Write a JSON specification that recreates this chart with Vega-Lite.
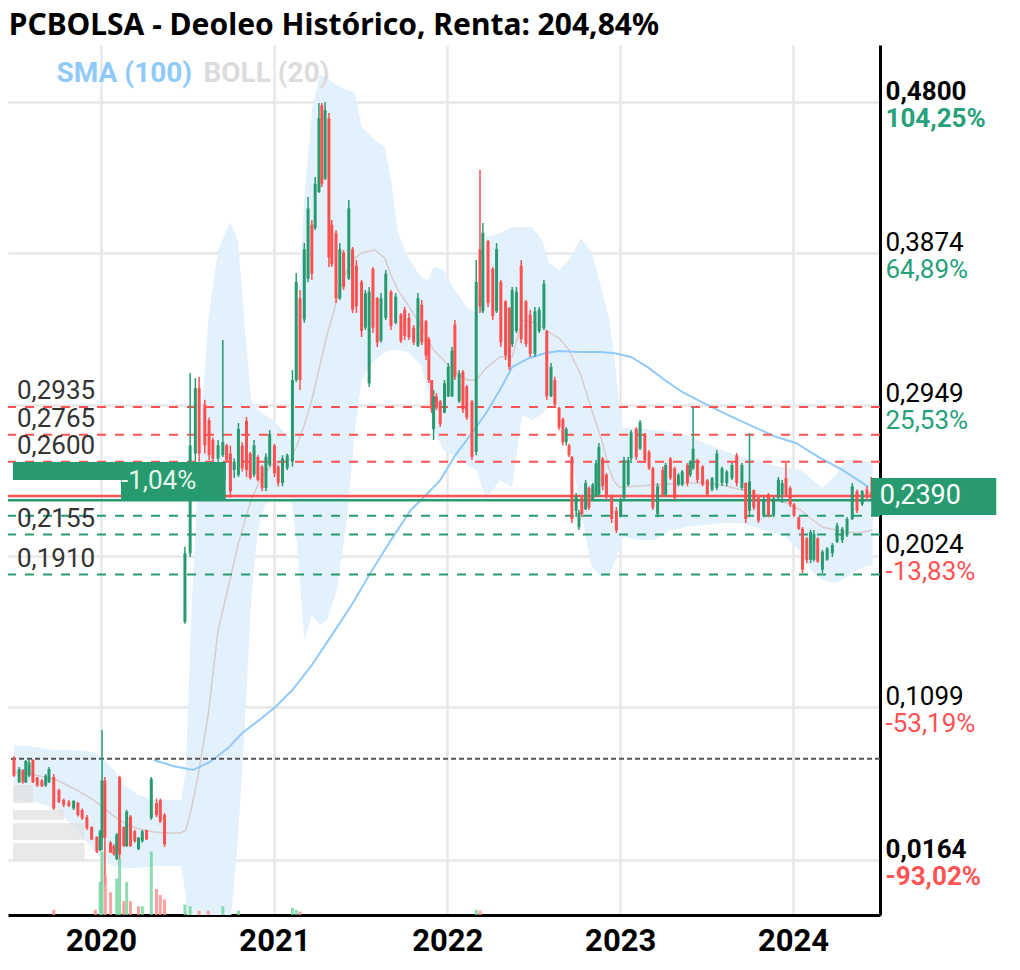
{
"$schema":"https://vega.github.io/schema/vega-lite/v6.json",
"width":872,"height":870,
"autosize":{"type":"none"},
"padding":{"left":8,"top":45,"right":140,"bottom":55},
"background":"white",
"title":{"text":"PCBOLSA - Deoleo Histórico, Renta: 204,84%","anchor":"start","fontSize":30,"fontWeight":"bold","font":"Noto Sans","color":"#000000","offset":-20,"baseline":"alphabetic","dx":2},
"config":{"view":{"stroke":null},"font":"Roboto"},
"datasets":{
"candles":[
{"d":"2019-07-01","o":0.0784,"h":0.0800,"l":0.0672,"c":0.0680},
{"d":"2019-07-12","o":0.0640,"h":0.0733,"l":0.0635,"c":0.0720},
{"d":"2019-07-20","o":0.0715,"h":0.0720,"l":0.0630,"c":0.0640},
{"d":"2019-07-26","o":0.0640,"h":0.0776,"l":0.0635,"c":0.0770},
{"d":"2019-08-02","o":0.0680,"h":0.0780,"l":0.0670,"c":0.0760},
{"d":"2019-08-10","o":0.0776,"h":0.0780,"l":0.0635,"c":0.0640},
{"d":"2019-08-19","o":0.0670,"h":0.0672,"l":0.0611,"c":0.0620},
{"d":"2019-08-29","o":0.0650,"h":0.0660,"l":0.0611,"c":0.0615},
{"d":"2019-09-06","o":0.0620,"h":0.0690,"l":0.0611,"c":0.0680},
{"d":"2019-09-13","o":0.0640,"h":0.0733,"l":0.0635,"c":0.0720},
{"d":"2019-09-23","o":0.0672,"h":0.0690,"l":0.0470,"c":0.0480},
{"d":"2019-10-04","o":0.0592,"h":0.0600,"l":0.0513,"c":0.0520},
{"d":"2019-10-14","o":0.0531,"h":0.0540,"l":0.0488,"c":0.0500},
{"d":"2019-10-25","o":0.0520,"h":0.0531,"l":0.0488,"c":0.0495},
{"d":"2019-11-04","o":0.0480,"h":0.0531,"l":0.0470,"c":0.0525},
{"d":"2019-11-13","o":0.0513,"h":0.0520,"l":0.0430,"c":0.0440},
{"d":"2019-11-22","o":0.0470,"h":0.0480,"l":0.0409,"c":0.0420},
{"d":"2019-12-02","o":0.0427,"h":0.0440,"l":0.0348,"c":0.0360},
{"d":"2019-12-12","o":0.0366,"h":0.0370,"l":0.0286,"c":0.0290},
{"d":"2019-12-23","o":0.0305,"h":0.0310,"l":0.0207,"c":0.0215},
{"d":"2019-12-30","o":0.0225,"h":0.0348,"l":0.0220,"c":0.0340},
{"d":"2020-01-03","o":0.0300,"h":0.0959,"l":0.0225,"c":0.0650},
{"d":"2020-01-09","o":0.0650,"h":0.0672,"l":0.0010,"c":0.0300},
{"d":"2020-01-21","o":0.0270,"h":0.0280,"l":0.0207,"c":0.0210},
{"d":"2020-01-28","o":0.0250,"h":0.0260,"l":0.0190,"c":0.0200},
{"d":"2020-02-03","o":0.0170,"h":0.0329,"l":0.0164,"c":0.0320},
{"d":"2020-02-09","o":0.0672,"h":0.0680,"l":0.0164,"c":0.0200},
{"d":"2020-02-18","o":0.0366,"h":0.0370,"l":0.0244,"c":0.0250},
{"d":"2020-02-24","o":0.0250,"h":0.0470,"l":0.0244,"c":0.0460},
{"d":"2020-03-03","o":0.0430,"h":0.0440,"l":0.0244,"c":0.0250},
{"d":"2020-03-12","o":0.0340,"h":0.0350,"l":0.0270,"c":0.0280},
{"d":"2020-03-20","o":0.0230,"h":0.0305,"l":0.0225,"c":0.0300},
{"d":"2020-03-28","o":0.0280,"h":0.0348,"l":0.0270,"c":0.0340},
{"d":"2020-04-06","o":0.0348,"h":0.0350,"l":0.0286,"c":0.0290},
{"d":"2020-04-16","o":0.0420,"h":0.0672,"l":0.0410,"c":0.0660},
{"d":"2020-04-27","o":0.0513,"h":0.0540,"l":0.0427,"c":0.0440},
{"d":"2020-05-05","o":0.0530,"h":0.0540,"l":0.0391,"c":0.0400},
{"d":"2020-05-14","o":0.0440,"h":0.0452,"l":0.0244,"c":0.0260},
{"d":"2020-06-26","o":0.1620,"h":0.2080,"l":0.1610,"c":0.2040},
{"d":"2020-07-07","o":0.2040,"h":0.3143,"l":0.2017,"c":0.2700},
{"d":"2020-07-18","o":0.2650,"h":0.3112,"l":0.2600,"c":0.3050},
{"d":"2020-07-26","o":0.3050,"h":0.3118,"l":0.2600,"c":0.2650},
{"d":"2020-08-07","o":0.2950,"h":0.2980,"l":0.2650,"c":0.2700},
{"d":"2020-08-16","o":0.2855,"h":0.2870,"l":0.2611,"c":0.2640},
{"d":"2020-08-24","o":0.2733,"h":0.2750,"l":0.2600,"c":0.2620},
{"d":"2020-09-04","o":0.2620,"h":0.2733,"l":0.2600,"c":0.2700},
{"d":"2020-09-14","o":0.2640,"h":0.3345,"l":0.2629,"c":0.2720},
{"d":"2020-09-22","o":0.2700,"h":0.2710,"l":0.2600,"c":0.2610},
{"d":"2020-09-30","o":0.2650,"h":0.2700,"l":0.2380,"c":0.2420},
{"d":"2020-10-08","o":0.2550,"h":0.2620,"l":0.2500,"c":0.2600},
{"d":"2020-10-17","o":0.2520,"h":0.2837,"l":0.2507,"c":0.2800},
{"d":"2020-10-25","o":0.2700,"h":0.2720,"l":0.2540,"c":0.2560},
{"d":"2020-11-03","o":0.2850,"h":0.2874,"l":0.2507,"c":0.2550},
{"d":"2020-11-11","o":0.2650,"h":0.2660,"l":0.2490,"c":0.2500},
{"d":"2020-11-19","o":0.2520,"h":0.2733,"l":0.2507,"c":0.2700},
{"d":"2020-11-27","o":0.2630,"h":0.2640,"l":0.2480,"c":0.2490},
{"d":"2020-12-06","o":0.2570,"h":0.2580,"l":0.2420,"c":0.2440},
{"d":"2020-12-14","o":0.2440,"h":0.2650,"l":0.2420,"c":0.2630},
{"d":"2020-12-22","o":0.2580,"h":0.2794,"l":0.2570,"c":0.2770},
{"d":"2021-01-01","o":0.2700,"h":0.2710,"l":0.2507,"c":0.2530},
{"d":"2021-01-09","o":0.2570,"h":0.2580,"l":0.2450,"c":0.2470},
{"d":"2021-01-18","o":0.2470,"h":0.2640,"l":0.2450,"c":0.2620},
{"d":"2021-01-28","o":0.2560,"h":0.2650,"l":0.2550,"c":0.2640},
{"d":"2021-02-08","o":0.2600,"h":0.3161,"l":0.2570,"c":0.3100},
{"d":"2021-02-16","o":0.3100,"h":0.3754,"l":0.3090,"c":0.3700},
{"d":"2021-02-24","o":0.3600,"h":0.3650,"l":0.3039,"c":0.3100},
{"d":"2021-03-05","o":0.3470,"h":0.3938,"l":0.3450,"c":0.3900},
{"d":"2021-03-13","o":0.3720,"h":0.4219,"l":0.3700,"c":0.4150},
{"d":"2021-03-21","o":0.4050,"h":0.4079,"l":0.3712,"c":0.3750},
{"d":"2021-03-28","o":0.4030,"h":0.4342,"l":0.4017,"c":0.4300},
{"d":"2021-04-05","o":0.4250,"h":0.4794,"l":0.4244,"c":0.4700},
{"d":"2021-04-11","o":0.4780,"h":0.4794,"l":0.4280,"c":0.4300},
{"d":"2021-04-18","o":0.4330,"h":0.4800,"l":0.4323,"c":0.4750},
{"d":"2021-04-26","o":0.4700,"h":0.4733,"l":0.3791,"c":0.3850},
{"d":"2021-05-02","o":0.4050,"h":0.4079,"l":0.3791,"c":0.3810},
{"d":"2021-05-11","o":0.4000,"h":0.4017,"l":0.3571,"c":0.3600},
{"d":"2021-05-19","o":0.3600,"h":0.3938,"l":0.3589,"c":0.3900},
{"d":"2021-05-27","o":0.3880,"h":0.3895,"l":0.3650,"c":0.3670},
{"d":"2021-06-07","o":0.3720,"h":0.4201,"l":0.3712,"c":0.4150},
{"d":"2021-06-15","o":0.3900,"h":0.3913,"l":0.3510,"c":0.3530},
{"d":"2021-06-23","o":0.3800,"h":0.3834,"l":0.3510,"c":0.3550},
{"d":"2021-07-04","o":0.3700,"h":0.3712,"l":0.3363,"c":0.3400},
{"d":"2021-07-12","o":0.3420,"h":0.3650,"l":0.3406,"c":0.3630},
{"d":"2021-07-20","o":0.3080,"h":0.3669,"l":0.3057,"c":0.3640},
{"d":"2021-07-28","o":0.3780,"h":0.3791,"l":0.3387,"c":0.3420},
{"d":"2021-08-06","o":0.3600,"h":0.3608,"l":0.3302,"c":0.3330},
{"d":"2021-08-14","o":0.3340,"h":0.3632,"l":0.3330,"c":0.3600},
{"d":"2021-08-24","o":0.3480,"h":0.3773,"l":0.3467,"c":0.3750},
{"d":"2021-09-04","o":0.3640,"h":0.3650,"l":0.3406,"c":0.3430},
{"d":"2021-09-14","o":0.3450,"h":0.3632,"l":0.3440,"c":0.3610},
{"d":"2021-09-25","o":0.3500,"h":0.3510,"l":0.3326,"c":0.3340},
{"d":"2021-10-03","o":0.3530,"h":0.3547,"l":0.3345,"c":0.3370},
{"d":"2021-10-12","o":0.3480,"h":0.3510,"l":0.3345,"c":0.3360},
{"d":"2021-10-22","o":0.3420,"h":0.3436,"l":0.3314,"c":0.3330},
{"d":"2021-10-31","o":0.3310,"h":0.3632,"l":0.3302,"c":0.3600},
{"d":"2021-11-08","o":0.3560,"h":0.3589,"l":0.3314,"c":0.3330},
{"d":"2021-11-17","o":0.3460,"h":0.3467,"l":0.3222,"c":0.3250},
{"d":"2021-11-23","o":0.3350,"h":0.3363,"l":0.3082,"c":0.3100},
{"d":"2021-11-29","o":0.3100,"h":0.3100,"l":0.2898,"c":0.2920},
{"d":"2021-12-03","o":0.2800,"h":0.3039,"l":0.2733,"c":0.3000},
{"d":"2021-12-09","o":0.3000,"h":0.3020,"l":0.2916,"c":0.2930},
{"d":"2021-12-17","o":0.2970,"h":0.2978,"l":0.2812,"c":0.2830},
{"d":"2021-12-26","o":0.2900,"h":0.3100,"l":0.2898,"c":0.3080},
{"d":"2022-01-03","o":0.3000,"h":0.3204,"l":0.2996,"c":0.3180},
{"d":"2022-01-11","o":0.3000,"h":0.3302,"l":0.2996,"c":0.3280},
{"d":"2022-01-17","o":0.3440,"h":0.3467,"l":0.3100,"c":0.3120},
{"d":"2022-01-26","o":0.2970,"h":0.3161,"l":0.2959,"c":0.3140},
{"d":"2022-02-03","o":0.3150,"h":0.3161,"l":0.2898,"c":0.2920},
{"d":"2022-02-11","o":0.3060,"h":0.3070,"l":0.2855,"c":0.2870},
{"d":"2022-02-22","o":0.2970,"h":0.2978,"l":0.2611,"c":0.2630},
{"d":"2022-03-03","o":0.2660,"h":0.3834,"l":0.2640,"c":0.3700},
{"d":"2022-03-11","o":0.3900,"h":0.4384,"l":0.3510,"c":0.3550},
{"d":"2022-03-17","o":0.3520,"h":0.4060,"l":0.3510,"c":0.4000},
{"d":"2022-03-28","o":0.3950,"h":0.3956,"l":0.3547,"c":0.3570},
{"d":"2022-04-07","o":0.3780,"h":0.3791,"l":0.3467,"c":0.3490},
{"d":"2022-04-15","o":0.3520,"h":0.3938,"l":0.3510,"c":0.3900},
{"d":"2022-04-24","o":0.3700,"h":0.3712,"l":0.3302,"c":0.3330},
{"d":"2022-05-04","o":0.3580,"h":0.3589,"l":0.3222,"c":0.3250},
{"d":"2022-05-12","o":0.3540,"h":0.3547,"l":0.3161,"c":0.3180},
{"d":"2022-05-18","o":0.3320,"h":0.3669,"l":0.3302,"c":0.3650},
{"d":"2022-05-27","o":0.3400,"h":0.3669,"l":0.3387,"c":0.3640},
{"d":"2022-06-06","o":0.3800,"h":0.3834,"l":0.3326,"c":0.3350},
{"d":"2022-06-16","o":0.3580,"h":0.3589,"l":0.3302,"c":0.3320},
{"d":"2022-06-25","o":0.3500,"h":0.3528,"l":0.3241,"c":0.3260},
{"d":"2022-07-05","o":0.3260,"h":0.3547,"l":0.3241,"c":0.3520},
{"d":"2022-07-14","o":0.3400,"h":0.3547,"l":0.3387,"c":0.3530},
{"d":"2022-07-24","o":0.3420,"h":0.3712,"l":0.3406,"c":0.3690},
{"d":"2022-07-30","o":0.3400,"h":0.3406,"l":0.2978,"c":0.3000},
{"d":"2022-08-08","o":0.3000,"h":0.3204,"l":0.2996,"c":0.3180},
{"d":"2022-08-16","o":0.3100,"h":0.3120,"l":0.2935,"c":0.2950},
{"d":"2022-08-25","o":0.2930,"h":0.2935,"l":0.2794,"c":0.2810},
{"d":"2022-09-02","o":0.2860,"h":0.2870,"l":0.2700,"c":0.2720},
{"d":"2022-09-09","o":0.2720,"h":0.2812,"l":0.2700,"c":0.2800},
{"d":"2022-09-15","o":0.2700,"h":0.2710,"l":0.2629,"c":0.2640},
{"d":"2022-09-21","o":0.2630,"h":0.2635,"l":0.2225,"c":0.2250},
{"d":"2022-09-30","o":0.2300,"h":0.2409,"l":0.2260,"c":0.2390},
{"d":"2022-10-06","o":0.2200,"h":0.2305,"l":0.2183,"c":0.2290},
{"d":"2022-10-12","o":0.2380,"h":0.2385,"l":0.2260,"c":0.2280},
{"d":"2022-10-20","o":0.2310,"h":0.2488,"l":0.2305,"c":0.2470},
{"d":"2022-10-27","o":0.2440,"h":0.2450,"l":0.2305,"c":0.2320},
{"d":"2022-11-04","o":0.2370,"h":0.2470,"l":0.2366,"c":0.2460},
{"d":"2022-11-11","o":0.2390,"h":0.2611,"l":0.2385,"c":0.2590},
{"d":"2022-11-17","o":0.2400,"h":0.2715,"l":0.2385,"c":0.2690},
{"d":"2022-11-25","o":0.2620,"h":0.2629,"l":0.2427,"c":0.2450},
{"d":"2022-12-03","o":0.2520,"h":0.2531,"l":0.2366,"c":0.2390},
{"d":"2022-12-14","o":0.2390,"h":0.2400,"l":0.2225,"c":0.2250},
{"d":"2022-12-24","o":0.2300,"h":0.2323,"l":0.2164,"c":0.2180},
{"d":"2023-01-02","o":0.2270,"h":0.2380,"l":0.2260,"c":0.2370},
{"d":"2023-01-09","o":0.2380,"h":0.2629,"l":0.2366,"c":0.2610},
{"d":"2023-01-18","o":0.2460,"h":0.2629,"l":0.2450,"c":0.2610},
{"d":"2023-01-24","o":0.2620,"h":0.2794,"l":0.2592,"c":0.2780},
{"d":"2023-02-04","o":0.2800,"h":0.2812,"l":0.2611,"c":0.2630},
{"d":"2023-02-12","o":0.2680,"h":0.2855,"l":0.2672,"c":0.2840},
{"d":"2023-02-22","o":0.2770,"h":0.2776,"l":0.2592,"c":0.2610},
{"d":"2023-03-03","o":0.2660,"h":0.2672,"l":0.2550,"c":0.2560},
{"d":"2023-03-11","o":0.2560,"h":0.2570,"l":0.2305,"c":0.2320},
{"d":"2023-03-21","o":0.2280,"h":0.2470,"l":0.2260,"c":0.2450},
{"d":"2023-04-01","o":0.2550,"h":0.2570,"l":0.2385,"c":0.2400},
{"d":"2023-04-07","o":0.2400,"h":0.2592,"l":0.2385,"c":0.2580},
{"d":"2023-04-17","o":0.2620,"h":0.2629,"l":0.2488,"c":0.2500},
{"d":"2023-04-26","o":0.2560,"h":0.2570,"l":0.2366,"c":0.2380},
{"d":"2023-05-04","o":0.2460,"h":0.2531,"l":0.2450,"c":0.2520},
{"d":"2023-05-12","o":0.2460,"h":0.2550,"l":0.2450,"c":0.2540},
{"d":"2023-05-23","o":0.2580,"h":0.2592,"l":0.2450,"c":0.2470},
{"d":"2023-05-29","o":0.2520,"h":0.2611,"l":0.2507,"c":0.2600},
{"d":"2023-06-04","o":0.2560,"h":0.2935,"l":0.2550,"c":0.2680},
{"d":"2023-06-13","o":0.2610,"h":0.2620,"l":0.2470,"c":0.2490},
{"d":"2023-06-24","o":0.2570,"h":0.2580,"l":0.2450,"c":0.2460},
{"d":"2023-07-04","o":0.2488,"h":0.2495,"l":0.2385,"c":0.2400},
{"d":"2023-07-14","o":0.2430,"h":0.2507,"l":0.2420,"c":0.2500},
{"d":"2023-07-24","o":0.2440,"h":0.2672,"l":0.2427,"c":0.2650},
{"d":"2023-08-04","o":0.2470,"h":0.2570,"l":0.2450,"c":0.2560},
{"d":"2023-08-14","o":0.2470,"h":0.2550,"l":0.2450,"c":0.2540},
{"d":"2023-08-25","o":0.2500,"h":0.2592,"l":0.2488,"c":0.2580},
{"d":"2023-09-04","o":0.2640,"h":0.2654,"l":0.2450,"c":0.2470},
{"d":"2023-09-15","o":0.2440,"h":0.2592,"l":0.2427,"c":0.2580},
{"d":"2023-09-23","o":0.2470,"h":0.2475,"l":0.2225,"c":0.2250},
{"d":"2023-10-01","o":0.2300,"h":0.2776,"l":0.2260,"c":0.2480},
{"d":"2023-10-10","o":0.2427,"h":0.2430,"l":0.2305,"c":0.2320},
{"d":"2023-10-20","o":0.2380,"h":0.2390,"l":0.2225,"c":0.2240},
{"d":"2023-10-31","o":0.2270,"h":0.2385,"l":0.2260,"c":0.2370},
{"d":"2023-11-10","o":0.2400,"h":0.2409,"l":0.2260,"c":0.2270},
{"d":"2023-11-21","o":0.2270,"h":0.2385,"l":0.2260,"c":0.2375},
{"d":"2023-12-01","o":0.2380,"h":0.2507,"l":0.2366,"c":0.2490},
{"d":"2023-12-09","o":0.2400,"h":0.2488,"l":0.2348,"c":0.2470},
{"d":"2023-12-17","o":0.2500,"h":0.2592,"l":0.2385,"c":0.2400},
{"d":"2023-12-26","o":0.2440,"h":0.2450,"l":0.2323,"c":0.2340},
{"d":"2024-01-03","o":0.2340,"h":0.2348,"l":0.2260,"c":0.2270},
{"d":"2024-01-13","o":0.2260,"h":0.2265,"l":0.2183,"c":0.2190},
{"d":"2024-01-21","o":0.2190,"h":0.2201,"l":0.1920,"c":0.1940},
{"d":"2024-01-30","o":0.2130,"h":0.2140,"l":0.1981,"c":0.2000},
{"d":"2024-02-07","o":0.2000,"h":0.2183,"l":0.1981,"c":0.2170},
{"d":"2024-02-14","o":0.2000,"h":0.2183,"l":0.1990,"c":0.2160},
{"d":"2024-02-22","o":0.2130,"h":0.2140,"l":0.1981,"c":0.1990},
{"d":"2024-03-03","o":0.1940,"h":0.2060,"l":0.1920,"c":0.2050},
{"d":"2024-03-13","o":0.2000,"h":0.2079,"l":0.1995,"c":0.2070},
{"d":"2024-03-24","o":0.2040,"h":0.2103,"l":0.2017,"c":0.2090},
{"d":"2024-04-03","o":0.2110,"h":0.2225,"l":0.2103,"c":0.2210},
{"d":"2024-04-14","o":0.2120,"h":0.2201,"l":0.2103,"c":0.2190},
{"d":"2024-04-24","o":0.2150,"h":0.2262,"l":0.2140,"c":0.2250},
{"d":"2024-05-05","o":0.2250,"h":0.2470,"l":0.2244,"c":0.2450},
{"d":"2024-05-15","o":0.2420,"h":0.2430,"l":0.2287,"c":0.2300},
{"d":"2024-05-26","o":0.2340,"h":0.2427,"l":0.2330,"c":0.2420},
{"d":"2024-06-05","o":0.2430,"h":0.2450,"l":0.2366,"c":0.2380},
{"d":"2024-06-14","o":0.2415,"h":0.2507,"l":0.2370,"c":0.2390}
],
"band":[
{"d":"2019-07-01","u":0.0868,"lo":0.0531,"m":0.0702},
{"d":"2019-08-14","u":0.0855,"lo":0.0519,"m":0.0684},
{"d":"2019-09-25","u":0.0837,"lo":0.0482,"m":0.0660},
{"d":"2019-11-06","u":0.0837,"lo":0.0360,"m":0.0599},
{"d":"2019-12-17","u":0.0825,"lo":0.0225,"m":0.0531},
{"d":"2020-01-07","u":0.0776,"lo":0.0152,"m":0.0482},
{"d":"2020-01-28","u":0.0715,"lo":0.0128,"m":0.0433},
{"d":"2020-02-18","u":0.0623,"lo":0.0115,"m":0.0391},
{"d":"2020-03-20","u":0.0562,"lo":0.0115,"m":0.0354},
{"d":"2020-04-21","u":0.0531,"lo":0.0128,"m":0.0336},
{"d":"2020-05-22","u":0.0531,"lo":0.0128,"m":0.0329},
{"d":"2020-06-18","u":0.0531,"lo":0.0128,"m":0.0329},
{"d":"2020-06-28","u":0.0715,"lo":-0.0056,"m":0.0348},
{"d":"2020-07-09","u":0.1632,"lo":-0.0692,"m":0.0470},
{"d":"2020-07-24","u":0.2550,"lo":-0.0998,"m":0.0684},
{"d":"2020-08-14","u":0.3467,"lo":-0.1181,"m":0.1051},
{"d":"2020-09-04","u":0.3895,"lo":-0.0692,"m":0.1571},
{"d":"2020-09-29","u":0.4066,"lo":-0.0264,"m":0.1877},
{"d":"2020-10-16","u":0.3956,"lo":0.0287,"m":0.2091},
{"d":"2020-10-31","u":0.3406,"lo":0.1021,"m":0.2244},
{"d":"2020-11-13","u":0.2978,"lo":0.1754,"m":0.2366},
{"d":"2020-11-27","u":0.2916,"lo":0.2183,"m":0.2458},
{"d":"2020-12-12","u":0.2886,"lo":0.2335,"m":0.2537},
{"d":"2020-12-28","u":0.2855,"lo":0.2378,"m":0.2580},
{"d":"2021-01-18","u":0.2794,"lo":0.2397,"m":0.2598},
{"d":"2021-02-04","u":0.2733,"lo":0.2397,"m":0.2611},
{"d":"2021-02-18","u":0.3406,"lo":0.2091,"m":0.2702},
{"d":"2021-03-05","u":0.4201,"lo":0.1510,"m":0.2825},
{"d":"2021-03-21","u":0.4751,"lo":0.1663,"m":0.2978},
{"d":"2021-04-07","u":0.4965,"lo":0.1602,"m":0.3192},
{"d":"2021-04-22","u":0.4947,"lo":0.1632,"m":0.3375},
{"d":"2021-05-13","u":0.4904,"lo":0.1816,"m":0.3589},
{"d":"2021-06-03","u":0.4874,"lo":0.2244,"m":0.3773},
{"d":"2021-06-20","u":0.4855,"lo":0.2794,"m":0.3846},
{"d":"2021-07-04","u":0.4647,"lo":0.3100,"m":0.3877},
{"d":"2021-08-01","u":0.4568,"lo":0.3222,"m":0.3895},
{"d":"2021-08-22","u":0.4525,"lo":0.3271,"m":0.3846},
{"d":"2021-09-04","u":0.4323,"lo":0.3283,"m":0.3742},
{"d":"2021-09-19","u":0.3999,"lo":0.3283,"m":0.3650},
{"d":"2021-10-10","u":0.3852,"lo":0.3271,"m":0.3559},
{"d":"2021-11-06","u":0.3730,"lo":0.3192,"m":0.3436},
{"d":"2021-11-21","u":0.3712,"lo":0.3039,"m":0.3345},
{"d":"2021-12-03","u":0.3791,"lo":0.2794,"m":0.3283},
{"d":"2021-12-24","u":0.3773,"lo":0.2672,"m":0.3222},
{"d":"2022-01-13","u":0.3669,"lo":0.2641,"m":0.3161},
{"d":"2022-02-11","u":0.3546,"lo":0.2580,"m":0.3100},
{"d":"2022-03-03","u":0.3510,"lo":0.2550,"m":0.3100},
{"d":"2022-03-24","u":0.3975,"lo":0.2366,"m":0.3173},
{"d":"2022-04-22","u":0.3999,"lo":0.2488,"m":0.3241},
{"d":"2022-05-18","u":0.4036,"lo":0.2446,"m":0.3241},
{"d":"2022-06-08","u":0.4036,"lo":0.2886,"m":0.3467},
{"d":"2022-06-29","u":0.4036,"lo":0.2855,"m":0.3455},
{"d":"2022-07-20","u":0.3956,"lo":0.2892,"m":0.3424},
{"d":"2022-08-04","u":0.3816,"lo":0.2947,"m":0.3393},
{"d":"2022-08-25","u":0.3773,"lo":0.2916,"m":0.3357},
{"d":"2022-09-15","u":0.3834,"lo":0.2733,"m":0.3283},
{"d":"2022-10-10","u":0.3968,"lo":0.2293,"m":0.3131},
{"d":"2022-11-02","u":0.3877,"lo":0.1956,"m":0.2916},
{"d":"2022-11-23","u":0.3650,"lo":0.1895,"m":0.2733},
{"d":"2022-12-08","u":0.3485,"lo":0.1907,"m":0.2562},
{"d":"2022-12-18","u":0.3283,"lo":0.1969,"m":0.2488},
{"d":"2022-12-29","u":0.2978,"lo":0.2060,"m":0.2446},
{"d":"2023-01-06","u":0.2806,"lo":0.2140,"m":0.2446},
{"d":"2023-02-08","u":0.2806,"lo":0.2121,"m":0.2452},
{"d":"2023-03-14","u":0.2794,"lo":0.2121,"m":0.2458},
{"d":"2023-04-17","u":0.2782,"lo":0.2183,"m":0.2464},
{"d":"2023-05-23","u":0.2764,"lo":0.2201,"m":0.2470},
{"d":"2023-06-28","u":0.2715,"lo":0.2213,"m":0.2470},
{"d":"2023-08-04","u":0.2672,"lo":0.2225,"m":0.2458},
{"d":"2023-09-15","u":0.2629,"lo":0.2225,"m":0.2427},
{"d":"2023-10-16","u":0.2611,"lo":0.2195,"m":0.2403},
{"d":"2023-11-16","u":0.2580,"lo":0.2164,"m":0.2372},
{"d":"2023-12-17","u":0.2562,"lo":0.2140,"m":0.2348},
{"d":"2024-01-17","u":0.2550,"lo":0.2048,"m":0.2305},
{"d":"2024-02-11","u":0.2488,"lo":0.1926,"m":0.2244},
{"d":"2024-03-03","u":0.2439,"lo":0.1877,"m":0.2201},
{"d":"2024-03-31","u":0.2519,"lo":0.1858,"m":0.2183},
{"d":"2024-04-21","u":0.2611,"lo":0.1889,"m":0.2170},
{"d":"2024-05-15","u":0.2611,"lo":0.1938,"m":0.2164},
{"d":"2024-06-17","u":0.2598,"lo":0.1969,"m":0.2183}
],
"sma":[
{"d":"2020-04-21","s":0.0776},{"d":"2020-06-01","s":0.0739},{"d":"2020-07-13","s":0.0715},
{"d":"2020-08-18","s":0.0764},{"d":"2020-09-25","s":0.0849},{"d":"2020-10-25","s":0.0941},
{"d":"2020-11-30","s":0.1021},{"d":"2021-01-03","s":0.1100},{"d":"2021-02-08","s":0.1204},
{"d":"2021-03-21","s":0.1357},{"d":"2021-05-02","s":0.1540},{"d":"2021-06-13","s":0.1724},
{"d":"2021-07-24","s":0.1926},{"d":"2021-09-04","s":0.2121},{"d":"2021-10-16","s":0.2305},
{"d":"2021-11-17","s":0.2397},{"d":"2021-12-17","s":0.2488},{"d":"2022-01-18","s":0.2641},
{"d":"2022-02-11","s":0.2733},{"d":"2022-03-24","s":0.2898},{"d":"2022-04-22","s":0.3039},
{"d":"2022-05-18","s":0.3179},{"d":"2022-06-23","s":0.3235},{"d":"2022-07-28","s":0.3265},
{"d":"2022-08-25","s":0.3277},{"d":"2022-10-06","s":0.3271},{"d":"2022-11-17","s":0.3271},
{"d":"2022-12-18","s":0.3265},{"d":"2023-01-24","s":0.3241},{"d":"2023-02-28","s":0.3179},
{"d":"2023-04-05","s":0.3100},{"d":"2023-05-12","s":0.3027},{"d":"2023-06-13","s":0.2978},
{"d":"2023-08-08","s":0.2898},{"d":"2023-10-10","s":0.2813},{"d":"2023-11-27","s":0.2751},
{"d":"2024-01-07","s":0.2715},{"d":"2024-02-24","s":0.2629},{"d":"2024-04-14","s":0.2550},
{"d":"2024-06-08","s":0.2446}
],
"vol":[
{"d":"2019-09-23","v":6,"dir":"down"},{"d":"2019-12-20","v":6,"dir":"down"},
{"d":"2019-12-30","v":38,"dir":"up"},{"d":"2020-01-03","v":73,"dir":"up"},
{"d":"2020-01-10","v":46,"dir":"down"},{"d":"2020-01-21","v":26,"dir":"down"},
{"d":"2020-02-03","v":42,"dir":"up"},{"d":"2020-02-09","v":65,"dir":"up"},
{"d":"2020-02-18","v":16,"dir":"down"},{"d":"2020-02-24","v":38,"dir":"up"},
{"d":"2020-03-03","v":16,"dir":"down"},{"d":"2020-03-20","v":10,"dir":"down"},
{"d":"2020-03-28","v":10,"dir":"up"},{"d":"2020-04-16","v":73,"dir":"up"},
{"d":"2020-04-27","v":30,"dir":"down"},{"d":"2020-05-05","v":23,"dir":"down"},
{"d":"2020-05-14","v":18,"dir":"down"},{"d":"2020-06-26","v":12,"dir":"up"},
{"d":"2020-07-07","v":10,"dir":"up"},{"d":"2020-07-26","v":5,"dir":"down"},
{"d":"2020-08-14","v":5,"dir":"down"},{"d":"2020-09-14","v":10,"dir":"up"},
{"d":"2020-10-17","v":5,"dir":"up"},{"d":"2021-02-08","v":8,"dir":"up"},
{"d":"2021-02-16","v":6,"dir":"up"},{"d":"2021-02-24","v":4,"dir":"down"},
{"d":"2022-03-03","v":6,"dir":"up"},{"d":"2022-03-11","v":5,"dir":"down"}
],
"vp":[
{"x1":"2019-06-29","x2":"2019-08-10","p1":0.0623,"p2":0.0513},
{"x1":"2019-06-29","x2":"2019-10-14","p1":0.0470,"p2":0.0409},
{"x1":"2019-06-29","x2":"2019-11-27","p1":0.0391,"p2":0.0287},
{"x1":"2019-06-29","x2":"2019-11-27","p1":0.0268,"p2":0.0164}
],
"levels":[
{"d":"2019-06-29","p":0.2935,"t":"0,2935","k":"res"},
{"d":"2019-06-29","p":0.2765,"t":"0,2765","k":"res"},
{"d":"2019-06-29","p":0.2600,"t":"0,2600","k":"res"},
{"d":"2019-06-29","p":0.2365,"t":"","k":"pivot"},
{"d":"2019-06-29","p":0.2270,"t":"","k":"sup"},
{"d":"2019-06-29","p":0.2155,"t":"0,2155","k":"sup"},
{"d":"2019-06-29","p":0.1910,"t":"0,1910","k":"sup"},
{"d":"2019-06-29","p":0.2390,"t":"","k":"last"}
]
},
"resolve":{"scale":{"y":"independent"},"axis":{"y":"independent"}},
"layer":[
{"data":{"name":"band"},
 "mark":{"type":"area","color":"#e3f1fc","clip":true},
 "encoding":{
  "x":{"field":"d","type":"temporal","scale":{"domain":[{"year":2019,"month":6,"date":29},{"year":2024,"month":6,"date":22}]},
   "axis":{"values":[{"year":2020,"month":1,"date":1},{"year":2021,"month":1,"date":1},{"year":2022,"month":1,"date":1},{"year":2023,"month":1,"date":1},{"year":2024,"month":1,"date":1}],
    "format":"%Y","title":null,"grid":true,"gridColor":"#e8e8e8","gridWidth":2.5,"ticks":false,"domainColor":"#000000","domainWidth":3,
    "labelFontSize":31,"labelFontWeight":"bold","labelColor":"#000000","labelPadding":11,"labelFont":"Roboto"}},
  "y":{"field":"u","type":"quantitative","scale":{"domain":[-0.0172,0.5149],"nice":false,"zero":false},
   "axis":{"orient":"right","values":[0.48,0.3874,0.2949,0.2024,0.1099,0.0164],"labelExpr":"replace(format(datum.value,'.4f'),'.',',')",
    "title":null,"grid":true,"gridColor":"#e8e8e8","gridWidth":2.5,"ticks":false,"domainColor":"#000000","domainWidth":3,
    "labelFontSize":26,"labelFont":"Roboto","labelColor":"#000000","labelBaseline":"alphabetic","labelOffset":-3,"labelPadding":5,"labelAlign":"left",
    "labelFontWeight":{"condition":{"test":"datum.value > 0.45 || datum.value < 0.02","value":"bold"},"value":"normal"}}},
  "y2":{"field":"lo"}}},
{"data":{"name":"vp"},
 "mark":{"type":"rect","color":"#e0e0e0","opacity":0.7},
 "encoding":{
  "x":{"field":"x1","type":"temporal"},
  "x2":{"field":"x2"},
  "y":{"field":"p1","type":"quantitative","scale":{"domain":[-0.0172,0.5149],"nice":false,"zero":false},"axis":null},
  "y2":{"field":"p2"}}},
{"data":{"name":"band"},
 "mark":{"type":"line","color":"#d8cccc","strokeWidth":1.5},
 "encoding":{
  "x":{"field":"d","type":"temporal"},
  "y":{"field":"m","type":"quantitative","scale":{"domain":[-0.0172,0.5149],"nice":false,"zero":false},"axis":null}}},
{"data":{"name":"sma"},
 "mark":{"type":"line","color":"#90caf9","strokeWidth":2},
 "encoding":{
  "x":{"field":"d","type":"temporal"},
  "y":{"field":"s","type":"quantitative","scale":{"domain":[-0.0172,0.5149],"nice":false,"zero":false},
   "axis":{"orient":"right","values":[0.48,0.3874,0.2949,0.2024,0.1099,0.0164],
    "labelExpr":"datum.value == 0.48 ? '104,25%' : datum.value == 0.3874 ? '64,89%' : datum.value == 0.2949 ? '25,53%' : datum.value == 0.2024 ? '-13,83%' : datum.value == 0.1099 ? '-53,19%' : '-93,02%'",
    "title":null,"grid":false,"ticks":false,"domain":false,
    "labelFontSize":26,"labelFont":"Roboto","labelBaseline":"alphabetic","labelOffset":24,"labelPadding":5,"labelAlign":"left",
    "labelColor":{"condition":{"test":"datum.value > 0.235","value":"#26a17a"},"value":"#ff5252"},
    "labelFontWeight":{"condition":{"test":"datum.value > 0.45 || datum.value < 0.02","value":"bold"},"value":"normal"}}}}},
{"data":{"name":"levels"},
 "transform":[{"filter":"datum.k == 'res'"}],
 "mark":{"type":"rule","color":"#ff5252","strokeWidth":2,"strokeDash":[9,9]},
 "encoding":{"y":{"field":"p","type":"quantitative","scale":{"domain":[-0.0172,0.5149],"nice":false,"zero":false},"axis":null}}},
{"data":{"name":"levels"},
 "transform":[{"filter":"datum.k == 'sup'"}],
 "mark":{"type":"rule","color":"#279b6f","strokeWidth":2,"strokeDash":[9,9]},
 "encoding":{"y":{"field":"p","type":"quantitative","scale":{"domain":[-0.0172,0.5149],"nice":false,"zero":false},"axis":null}}},
{"data":{"name":"levels"},
 "transform":[{"filter":"datum.k == 'pivot'"}],
 "mark":{"type":"rule","color":"#279b6f","strokeWidth":2.5},
 "encoding":{"y":{"field":"p","type":"quantitative","scale":{"domain":[-0.0172,0.5149],"nice":false,"zero":false},"axis":null}}},
{"data":{"name":"levels"},
 "transform":[{"filter":"datum.k == 'last'"}],
 "mark":{"type":"rule","color":"#ff5252","strokeWidth":2.5},
 "encoding":{"y":{"field":"p","type":"quantitative","scale":{"domain":[-0.0172,0.5149],"nice":false,"zero":false},"axis":null}}},
{"data":{"values":[{"p":0.0784}]},
 "mark":{"type":"rule","color":"#555555","strokeWidth":2,"strokeDash":[5,3]},
 "encoding":{"y":{"field":"p","type":"quantitative","scale":{"domain":[-0.0172,0.5149],"nice":false,"zero":false},"axis":null}}},
{"data":{"name":"candles"},
 "mark":{"type":"rule","strokeWidth":1.5},
 "encoding":{
  "x":{"field":"d","type":"temporal"},
  "y":{"field":"l","type":"quantitative","scale":{"domain":[-0.0172,0.5149],"nice":false,"zero":false},"axis":null},
  "y2":{"field":"h"},
  "color":{"condition":{"test":"datum.c >= datum.o","value":"#279b6f"},"value":"#ff4f4f"}}},
{"data":{"name":"candles"},
 "mark":{"type":"bar","size":3},
 "encoding":{
  "x":{"field":"d","type":"temporal"},
  "y":{"field":"o","type":"quantitative","scale":{"domain":[-0.0172,0.5149],"nice":false,"zero":false},"axis":null},
  "y2":{"field":"c"},
  "color":{"condition":{"test":"datum.c >= datum.o","value":"#279b6f"},"value":"#ff4f4f"}}},
{"data":{"name":"vol"},
 "mark":{"type":"bar","size":3,"opacity":0.8},
 "encoding":{
  "x":{"field":"d","type":"temporal"},
  "y":{"field":"v","type":"quantitative","scale":{"domain":[0,1000],"nice":false},"axis":null},
  "color":{"condition":{"test":"datum.dir == 'up'","value":"#6fd39c"},"value":"#ff8a8a"}}},
{"data":{"name":"levels"},
 "transform":[{"filter":"datum.t != ''"}],
 "mark":{"type":"text","align":"left","baseline":"alphabetic","dx":4,"dy":-8,"fontSize":26,"font":"Roboto","color":"#333333"},
 "encoding":{
  "x":{"field":"d","type":"temporal"},
  "y":{"field":"p","type":"quantitative","scale":{"domain":[-0.0172,0.5149],"nice":false,"zero":false},"axis":null},
  "text":{"field":"t"}}},
{"data":{"values":[{"x1":"2019-06-29","x2":"2020-09-20","p1":0.2598,"p2":0.2488},{"x1":"2020-02-12","x2":"2020-09-20","p1":0.2598,"p2":0.2366}]},
 "mark":{"type":"rect","color":"#279b6f"},
 "encoding":{
  "x":{"field":"x1","type":"temporal"},"x2":{"field":"x2"},
  "y":{"field":"p1","type":"quantitative","scale":{"domain":[-0.0172,0.5149],"nice":false,"zero":false},"axis":null},
  "y2":{"field":"p2"}}},
{"data":{"values":[{"d":"2020-02-12","p":0.2482,"t":"-1,04%"}]},
 "mark":{"type":"text","align":"left","baseline":"middle","fontSize":26,"font":"Roboto","color":"#e8f5ee"},
 "encoding":{
  "x":{"field":"d","type":"temporal"},
  "y":{"field":"p","type":"quantitative","scale":{"domain":[-0.0172,0.5149],"nice":false,"zero":false},"axis":null},
  "text":{"field":"t"}}},
{"data":{"values":[{"x1":"2024-06-14","x2":"2025-03-05","p1":0.2500,"p2":0.2275}]},
 "mark":{"type":"rect","color":"#279b6f"},
 "encoding":{
  "x":{"field":"x1","type":"temporal"},"x2":{"field":"x2"},
  "y":{"field":"p1","type":"quantitative","scale":{"domain":[-0.0172,0.5149],"nice":false,"zero":false},"axis":null},
  "y2":{"field":"p2"}}},
{"data":{"values":[{"d":"2024-07-02","p":0.2390,"t":"0,2390"}]},
 "mark":{"type":"text","align":"left","baseline":"middle","fontSize":27,"font":"Roboto","color":"#ffffff"},
 "encoding":{
  "x":{"field":"d","type":"temporal"},
  "y":{"field":"p","type":"quantitative","scale":{"domain":[-0.0172,0.5149],"nice":false,"zero":false},"axis":null},
  "text":{"field":"t"}}},
{"data":{"values":[{"d":"2019-09-29","p":0.4922,"t":"SMA (100)"}]},
 "mark":{"type":"text","align":"left","baseline":"alphabetic","fontSize":28,"fontWeight":"bold","font":"Roboto","color":"#90caf9"},
 "encoding":{
  "x":{"field":"d","type":"temporal"},
  "y":{"field":"p","type":"quantitative","scale":{"domain":[-0.0172,0.5149],"nice":false,"zero":false},"axis":null},
  "text":{"field":"t"}}},
{"data":{"values":[{"d":"2020-08-04","p":0.4922,"t":"BOLL (20)"}]},
 "mark":{"type":"text","align":"left","baseline":"alphabetic","fontSize":28,"fontWeight":"bold","font":"Roboto","color":"#dcdcdc"},
 "encoding":{
  "x":{"field":"d","type":"temporal"},
  "y":{"field":"p","type":"quantitative","scale":{"domain":[-0.0172,0.5149],"nice":false,"zero":false},"axis":null},
  "text":{"field":"t"}}}
]
}
